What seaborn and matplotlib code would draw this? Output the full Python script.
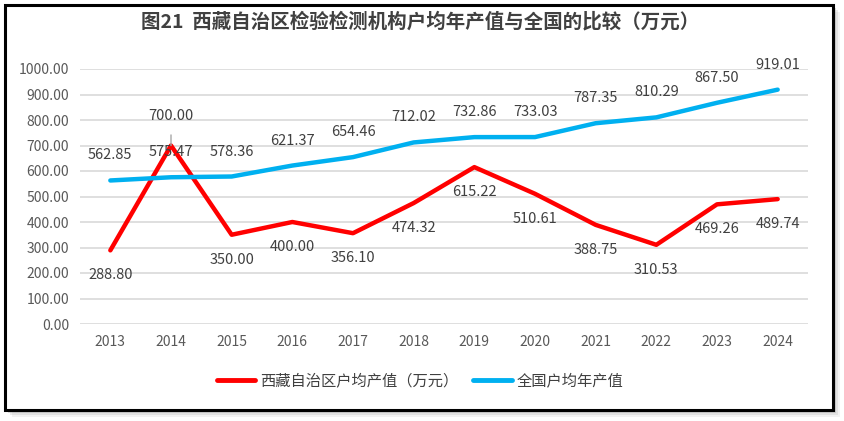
import matplotlib
matplotlib.use("Agg")
import matplotlib.pyplot as plt
import matplotlib.patches as mpatches
import seaborn as sns
import pandas as pd

years = ["2013", "2014", "2015", "2016", "2017", "2018", "2019", "2020", "2021", "2022", "2023", "2024"]
tibet = [288.80, 700.00, 350.00, 400.00, 356.10, 474.32, 615.22, 510.61, 388.75, 310.53, 469.26, 489.74]
national = [562.85, 575.47, 578.36, 621.37, 654.46, 712.02, 732.86, 733.03, 787.35, 810.29, 867.50, 919.01]
name_tibet = "西藏自治区户均产值（万元）"
name_nat = "全国户均年产值"
title = "图21  西藏自治区检验检测机构户均年产值与全国的比较（万元）"

sns.set_theme(style="white")
plt.rcParams["font.family"] = ["Noto Sans CJK SC", "DejaVu Sans"]

W, H = 844, 421
fig = plt.figure(figsize=(W / 100, H / 100), dpi=100)

# shadow + border
for i, a in enumerate([0.10, 0.15, 0.25]):
    off = 7 - i * 2
    fig.patches.append(mpatches.Rectangle(((5 + off) / W, 1 - (410 + off) / H), 828 / W, 405 / H,
                                          transform=fig.transFigure, facecolor="#808080", alpha=a,
                                          edgecolor="none", zorder=0))
fig.patches.append(mpatches.Rectangle((5 / W, 1 - 410 / H), 828 / W, 405 / H,
                                      transform=fig.transFigure, facecolor="white",
                                      edgecolor="black", linewidth=2.2, zorder=1))

ax = fig.add_axes([80 / W, 1 - 324 / H, (808 - 80) / W, (324 - 69) / H])
ax.set_zorder(2)
ax.patch.set_alpha(0)

df = pd.DataFrame({"year": years * 2,
                   "value": tibet + national,
                   "series": [name_tibet] * len(years) + [name_nat] * len(years)})
x_idx = list(range(len(years)))
df["x"] = x_idx * 2

sns.lineplot(data=df, x="x", y="value", hue="series",
             palette={name_tibet: "#FF0000", name_nat: "#00B0F0"},
             linewidth=3.2, ax=ax, legend=False, sort=False)

ax.set_xlim(-0.5, len(years) - 0.5)
ax.set_ylim(0, 1000)
ax.set_yticks(range(0, 1001, 100))
ax.set_yticklabels([f"{v:.2f}" for v in range(0, 1001, 100)])
ax.set_xticks(x_idx)
ax.set_xticklabels(years)
ax.tick_params(axis="both", labelsize=10, labelcolor="#595959", length=0, pad=8)
ax.grid(axis="y", color="#d9d9d9", linewidth=1.2)
ax.set_axisbelow(True)
for s in ax.spines.values():
    s.set_visible(False)
ax.set_xlabel("")
ax.set_ylabel("")

lab_color = "#404040"
for i, v in enumerate(national):
    ax.annotate(f"{v:.2f}", (i, v), xytext=(0, 18), textcoords="offset points",
                ha="center", va="center", fontsize=10.5, color=lab_color)
for i, v in enumerate(tibet):
    if i == 1:
        ax.annotate(f"{v:.2f}", (i, v), xytext=(0, 21), textcoords="offset points",
                    ha="center", va="center", fontsize=10.5, color=lab_color,
                    arrowprops=dict(arrowstyle="-", color="#a6a6a6", lw=1, shrinkA=6, shrinkB=0))
    else:
        ax.annotate(f"{v:.2f}", (i, v), xytext=(0, -18), textcoords="offset points",
                    ha="center", va="center", fontsize=10.5, color=lab_color)

fig.text(420 / W, 1 - 22 / H, title, ha="center", va="center", fontsize=14,
         fontweight="bold", color="#404040")

handles = [plt.Line2D([], [], color="#FF0000", lw=3.5), plt.Line2D([], [], color="#00B0F0", lw=3.5)]
fig.legend(handles, [name_tibet, name_nat], loc="center", bbox_to_anchor=(420 / W, 1 - 381 / H),
           ncol=2, frameon=False, fontsize=11, labelcolor="#404040",
           handlelength=2.5, handletextpad=0.3, columnspacing=1.0)

fig.savefig("out.png", dpi=100)
